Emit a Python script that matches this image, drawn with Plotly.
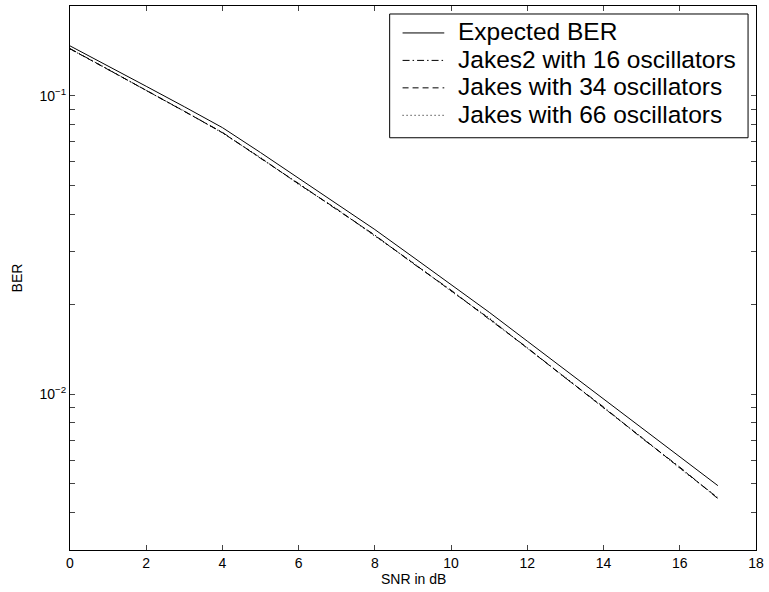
import plotly.graph_objects as go

snr_db = list(range(0, 18))

expected_ber = [0.1470, 0.1260, 0.1076, 0.0919, 0.0782, 0.0645, 0.0528, 0.0435,
                0.0356, 0.0288, 0.0233, 0.0188, 0.01504, 0.01203, 0.00962,
                0.00770, 0.00616, 0.00493]
jakes2_16 = [0.1440, 0.1224, 0.1046, 0.0884, 0.0754, 0.0617, 0.0508, 0.0415,
             0.0341, 0.0274, 0.0223, 0.0178, 0.01430, 0.01132, 0.00905,
             0.00712, 0.00569, 0.00446]
jakes_34 = [0.1437, 0.1227, 0.1043, 0.0887, 0.0752, 0.0619, 0.0506, 0.0417,
            0.0340, 0.0275, 0.0222, 0.0179, 0.01425, 0.01135, 0.00901,
            0.00715, 0.00566, 0.00448]
jakes_66 = [0.1434, 0.1229, 0.1041, 0.0889, 0.0750, 0.0621, 0.0504, 0.0418,
            0.0338, 0.0276, 0.0221, 0.0180, 0.01422, 0.01138, 0.00898,
            0.00717, 0.00563, 0.00450]

series_names = ["Expected BER", "Jakes2 with 16 oscillators",
                "Jakes with 34 oscillators", "Jakes with 66 oscillators"]

x_ticks = list(range(0, 19, 2))
y_tickvals = [0.003, 0.004, 0.005, 0.006, 0.007, 0.008, 0.009,
              0.01, 0.02, 0.03, 0.04, 0.05, 0.06, 0.07, 0.08, 0.09, 0.1, 0.2]
y_ticktext = ["", "", "", "", "", "", "", "10<sup>−2</sup>",
              "", "", "", "", "", "", "", "", "10<sup>−1</sup>", ""]

FONT = "Liberation Sans, Arial, Helvetica, sans-serif"
W, H = 769, 592
ML, MR, MT, MB = 70, 8, 5, 42
PW, PH = W - ML - MR, H - MT - MB


def px(x):
    return (x - ML) / PW


def py(y):
    return (H - MB - y) / PH


fig = go.Figure()
styles = [
    dict(color="black", width=1, dash="solid"),
    dict(color="black", width=1, dash="7px,3px,1.5px,3px"),
    dict(color="black", width=1, dash="6px,4px"),
    dict(color="black", width=1, dash="1px,3px"),
]
for name, ys, st in zip(series_names, [expected_ber, jakes2_16, jakes_34, jakes_66], styles):
    fig.add_trace(go.Scatter(x=snr_db, y=ys, mode="lines", name=name, line=st,
                             showlegend=False))

# legend drawn as a boxed key (MATLAB style)
shapes = [dict(type="rect", xref="paper", yref="paper",
               x0=px(392), x1=px(753), y0=py(137), y1=py(13),
               line=dict(color="black", width=1), fillcolor="white", layer="above")]
annotations = []
row_y = [31, 58.5, 86, 113.5]
for name, st, ry in zip(series_names, styles, row_y):
    shapes.append(dict(type="line", xref="paper", yref="paper",
                       x0=px(405), x1=px(447), y0=py(ry + 1), y1=py(ry + 1),
                       line=st, layer="above"))
    annotations.append(dict(text=name, x=px(459), y=py(ry), xref="paper", yref="paper",
                            xanchor="left", yanchor="middle", showarrow=False,
                            font=dict(size=24.5, family=FONT, color="black")))

annotations += [
    dict(text="SNR in dB", x=0.5, xref="paper", y=-0.035, yref="paper",
         yanchor="top", showarrow=False, font=dict(size=14)),
    dict(text="BER", x=px(17), xref="paper", xanchor="center",
         y=0.5, yref="paper", showarrow=False, textangle=-90,
         font=dict(size=14)),
]

fig.update_layout(
    width=W, height=H,
    margin=dict(l=ML, r=MR, t=MT, b=MB),
    paper_bgcolor="white", plot_bgcolor="white",
    font=dict(family=FONT, size=14, color="black"),
    showlegend=False,
    xaxis=dict(range=[0, 18], tickvals=x_ticks, ticks="inside", ticklen=5,
               showline=True, linecolor="black", linewidth=1, mirror="ticks",
               showgrid=False, zeroline=False, tickfont=dict(size=14)),
    yaxis=dict(type="log", range=[-2.5229, -0.69897], tickvals=y_tickvals,
               ticktext=y_ticktext, ticks="inside", ticklen=5,
               showline=True, linecolor="black", linewidth=1, mirror="ticks",
               showgrid=False, zeroline=False, tickfont=dict(size=14)),
    shapes=shapes,
    annotations=annotations,
)
fig.write_html("out.html")
